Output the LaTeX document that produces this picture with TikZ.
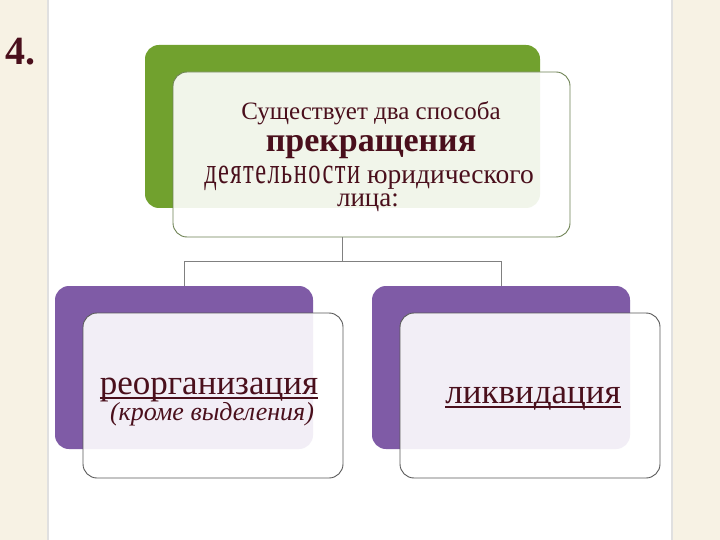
\documentclass[tikz,border=0pt]{standalone}
\usepackage{fontspec}
\usepackage{graphicx}
\setmainfont{Liberation Serif}
\usetikzlibrary{calc}
\definecolor{leafgreen}{HTML}{71A12E}
\definecolor{plum}{HTML}{7F5BA6}
\definecolor{wine}{HTML}{4A0F1C}
\definecolor{parchment}{HTML}{F7F2E4}
\newlength\ulwd
\newcommand\thickul[1]{\settowidth\ulwd{#1}\rlap{\rule[-5pt]{\ulwd}{2pt}}#1}
\newcommand\fs[1]{\fontsize{#1}{#1}\selectfont}
\tikzset{
  backbox/.style={rectangle, rounded corners=14pt, inner sep=0pt, minimum width=395pt, minimum height=163pt},
  frontbox/.style={rectangle, rounded corners=14pt, inner sep=0pt, fill=white, fill opacity=0.9, line width=0.9pt, minimum width=397pt, minimum height=165pt},
  label/.style={inner sep=0pt, anchor=base, text=wine},
  link/.style={line width=0.8pt, color=black!50},
}

\begin{document}
\begin{tikzpicture}[x=1pt,y=-1pt]
			%%%%% START %%%%%
			\useasboundingbox (0,0) rectangle (720,540);
			\fill[parchment] (0,0) rectangle (720,540);
			\draw[fill=white, draw=black!12, line width=1.5pt] (48,-5) rectangle (672,545);
			
			\node[label, anchor=base west, font=\bfseries\fs{40}] (num) at (5,65) {4.};
			
			% top pair
			\node[backbox, fill=leafgreen] (topback) at (342.5,126.5) {};
			\node[frontbox, draw=leafgreen!55!black!75] (top) at (371.5,154.5) {};
			\node[label, font=\fs{25}] (line1) at (371,120) {Существует два способа};
			\node[label, font=\bfseries\fs{34}] (line2) at (371,152) {прекращения};
			\node[label, font=\fs{27.5}] (line3) at (369,184) {\scalebox{0.66}[1]{\fs{37}\addfontfeature{LetterSpace=6}деятельности} юридического};
			\node[label, font=\fs{27}] (line4) at (368,207) {лица:};
			
			% bottom pairs
			\node[backbox, fill=plum, minimum width=258pt] (leftback) at (184,367.5) {};
			\node[frontbox, draw=black!65, minimum width=260pt] (reorg) at (213,395.5) {};
			\node[label, font=\fs{35}] (reorgtext) at (209,394) {\thickul{реорганизация}};
			\node[label, font=\itshape\fs{26}] (reorgnote) at (212,420) {(кроме выделения)};
			
			\node[backbox, fill=plum, minimum width=258pt] (rightback) at (501,367.5) {};
			\node[frontbox, draw=black!65, minimum width=260pt] (liquid) at (530,395.5) {};
			\node[label, font=\fs{35}] (liquidtext) at (533,403) {\thickul{ликвидация}};
			
			% connectors
			\draw[link] (topback.center |- top.south) -- ++(0,24) coordinate (fork);
			\draw[link] (leftback.north) |- (fork) -| (rightback.north);
			%%%%% END %%%%%
\end{tikzpicture}
\end{document}
